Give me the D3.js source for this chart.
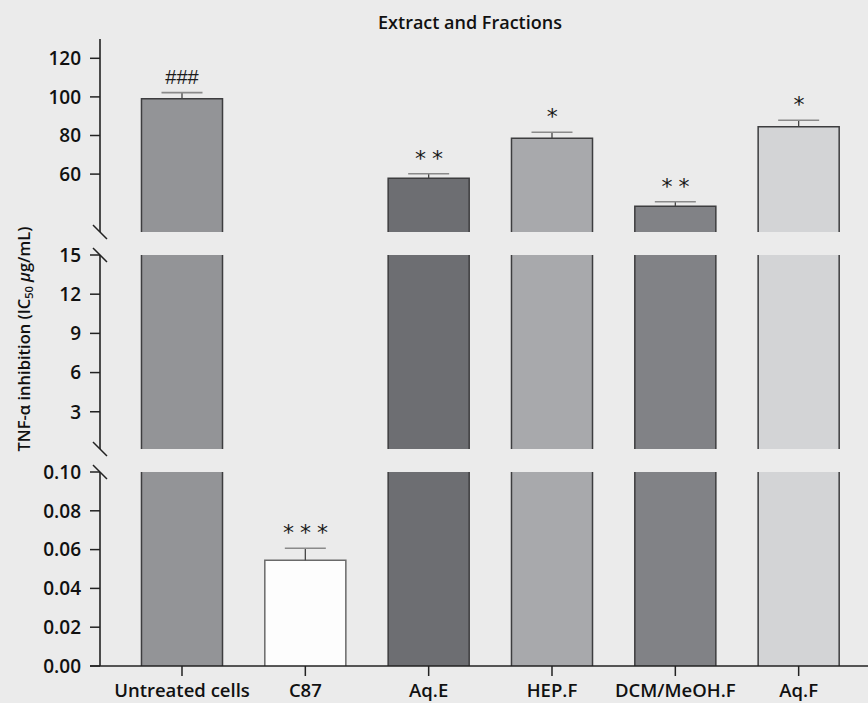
<!DOCTYPE html>
<html>
<head>
<meta charset="utf-8">
<script src="https://cdn.jsdelivr.net/npm/d3@7"></script>
<style>
  html, body { margin: 0; padding: 0; background: #ebebeb; }
  svg { display: block; }
  text { font-family: "Open Sans", sans-serif; font-weight: 600; fill: #111; }
</style>
</head>
<body>
<svg id="chart" width="868" height="703"></svg>
<script>
// ---- data ----
const categories = ["Untreated cells", "C87", "Aq.E", "HEP.F", "DCM/MeOH.F", "Aq.F"];
const values = [99, 0.0545, 57.8, 78.6, 43.3, 84.5];
const errors = [3.2, 0.0062, 2.4, 3.1, 2.4, 3.4];
const significance = ["###", "* * *", "* *", "*", "* *", "*"];
const fills = ["#939497", "#fdfdfd", "#6d6e72", "#a8a9ac", "#818286", "#d3d4d6"];
const bottomTicks = [0, 0.02, 0.04, 0.06, 0.08, 0.10];
const middleTicks = [3, 6, 9, 12, 15];
const topTicks = [60, 80, 100, 120];
const title = "Extract and Fractions";

// ---- layout ----
const svg = d3.select("#chart");
const axisX = 100;
const baseY = 666;

const segments = [
  { scale: d3.scaleLinear().domain([0, 0.10]).range([666, 472]), ticks: bottomTicks, fmt: d3.format(".2f"), breakTop: true, breakBottom: false },
  { scale: d3.scaleLinear().domain([0.15, 15]).range([449, 255]), ticks: middleTicks, fmt: d3.format("d"), breakTop: true, breakBottom: true },
  { scale: d3.scaleLinear().domain([30, 130]).range([232, 39]), ticks: topTicks, fmt: d3.format("d"), breakTop: false, breakBottom: true }
];

const x = d3.scaleBand().domain(categories).range([120.33, 860.33]).paddingInner(0.343).paddingOuter(0.1715);

// ---- bars ----
const barStroke = "#3d3d3f";
categories.forEach((c, i) => {
  const v = values[i];
  const x0 = x(c), x1 = x(c) + x.bandwidth();
  segments.forEach(seg => {
    const [lo, hi] = seg.scale.domain();
    if (v <= lo) return;
    const yBot = seg.scale(lo);
    const inside = v <= hi;
    const yTop = seg.scale(Math.min(v, hi));
    svg.append("rect").attr("x", x0).attr("y", yTop).attr("width", x1 - x0).attr("height", yBot - yTop)
      .attr("fill", fills[i]);
    const st = i === 1 ? "#6a6a6a" : barStroke;
    const p = inside
      ? `M${x0},${yBot}V${yTop}H${x1}V${yBot}`
      : `M${x0},${yBot}V${yTop}M${x1},${yBot}V${yTop}`;
    svg.append("path").attr("d", p).attr("fill", "none").attr("stroke", st).attr("stroke-width", 1.5);
    if (inside) {
      const cx = x0 + x.bandwidth() / 2;
      const yErr = seg.scale(v + errors[i]);
      svg.append("line").attr("x1", cx).attr("x2", cx).attr("y1", yTop).attr("y2", yErr)
        .attr("stroke", "#444").attr("stroke-width", 1.3);
      svg.append("line").attr("x1", cx - 20.5).attr("x2", cx + 20.5).attr("y1", yErr).attr("y2", yErr)
        .attr("stroke", "#8a8a8a").attr("stroke-width", 1.6);
      const isHash = significance[i].startsWith("#");
      svg.append("text").attr("x", cx).attr("y", isHash ? yErr - 9 : yErr - 8)
        .attr("text-anchor", "middle")
        .style("font-family", isHash ? "'Liberation Sans', sans-serif" : "'DejaVu Sans', sans-serif")
        .style("font-weight", "400")
        .style("font-size", isHash ? "20px" : "22px")
        .style("letter-spacing", isHash ? "0px" : "-0.5px")
        .style("fill", "#1a1a1a")
        .text(significance[i]);
    }
  });
});

// ---- y axis segments ----
segments.forEach(seg => {
  const r = seg.scale.range();
  svg.append("line").attr("x1", axisX).attr("x2", axisX).attr("y1", r[0]).attr("y2", r[1])
    .attr("stroke", "#222").attr("stroke-width", 1.6);
  seg.ticks.forEach(t => {
    const y = seg.scale(t);
    svg.append("line").attr("x1", axisX - 10).attr("x2", axisX).attr("y1", y).attr("y2", y)
      .attr("stroke", "#222").attr("stroke-width", 1.5);
    svg.append("text").attr("x", 81).attr("y", y).attr("dy", "0.36em").attr("text-anchor", "end")
      .style("font-size", "19px").text(seg.fmt(t));
  });
  const slash = y => svg.append("line").attr("x1", axisX - 7).attr("x2", axisX + 7)
    .attr("y1", y - 7).attr("y2", y + 7).attr("stroke", "#222").attr("stroke-width", 1.5);
  if (seg.breakTop) slash(r[1]);
  if (seg.breakBottom) slash(r[0]);
});

// ---- x axis ----
svg.append("line").attr("x1", axisX - 10).attr("x2", 868).attr("y1", baseY).attr("y2", baseY)
  .attr("stroke", "#222").attr("stroke-width", 1.6);
categories.forEach(c => {
  const cx = x(c) + x.bandwidth() / 2;
  svg.append("line").attr("x1", cx).attr("x2", cx).attr("y1", baseY).attr("y2", baseY + 10)
    .attr("stroke", "#222").attr("stroke-width", 1.5);
  svg.append("text").attr("x", cx).attr("y", 697).attr("text-anchor", "middle")
    .style("font-size", "18.5px").text(c);
});

// ---- title ----
svg.append("text").attr("x", 470).attr("y", 29).attr("text-anchor", "middle")
  .style("font-size", "18px").text(title);

// ---- y label ----
const yl = svg.append("text").attr("transform", "translate(30,339) rotate(-90)")
  .attr("text-anchor", "middle").style("font-size", "16.5px");
yl.append("tspan").text("TNF-α inhibition (IC");
yl.append("tspan").attr("baseline-shift", "-25%").style("font-size", "11px").text("50");
yl.append("tspan").text(" ");
yl.append("tspan").style("font-style", "italic").text("μ");
yl.append("tspan").text("g/mL)");
</script>
</body>
</html>
